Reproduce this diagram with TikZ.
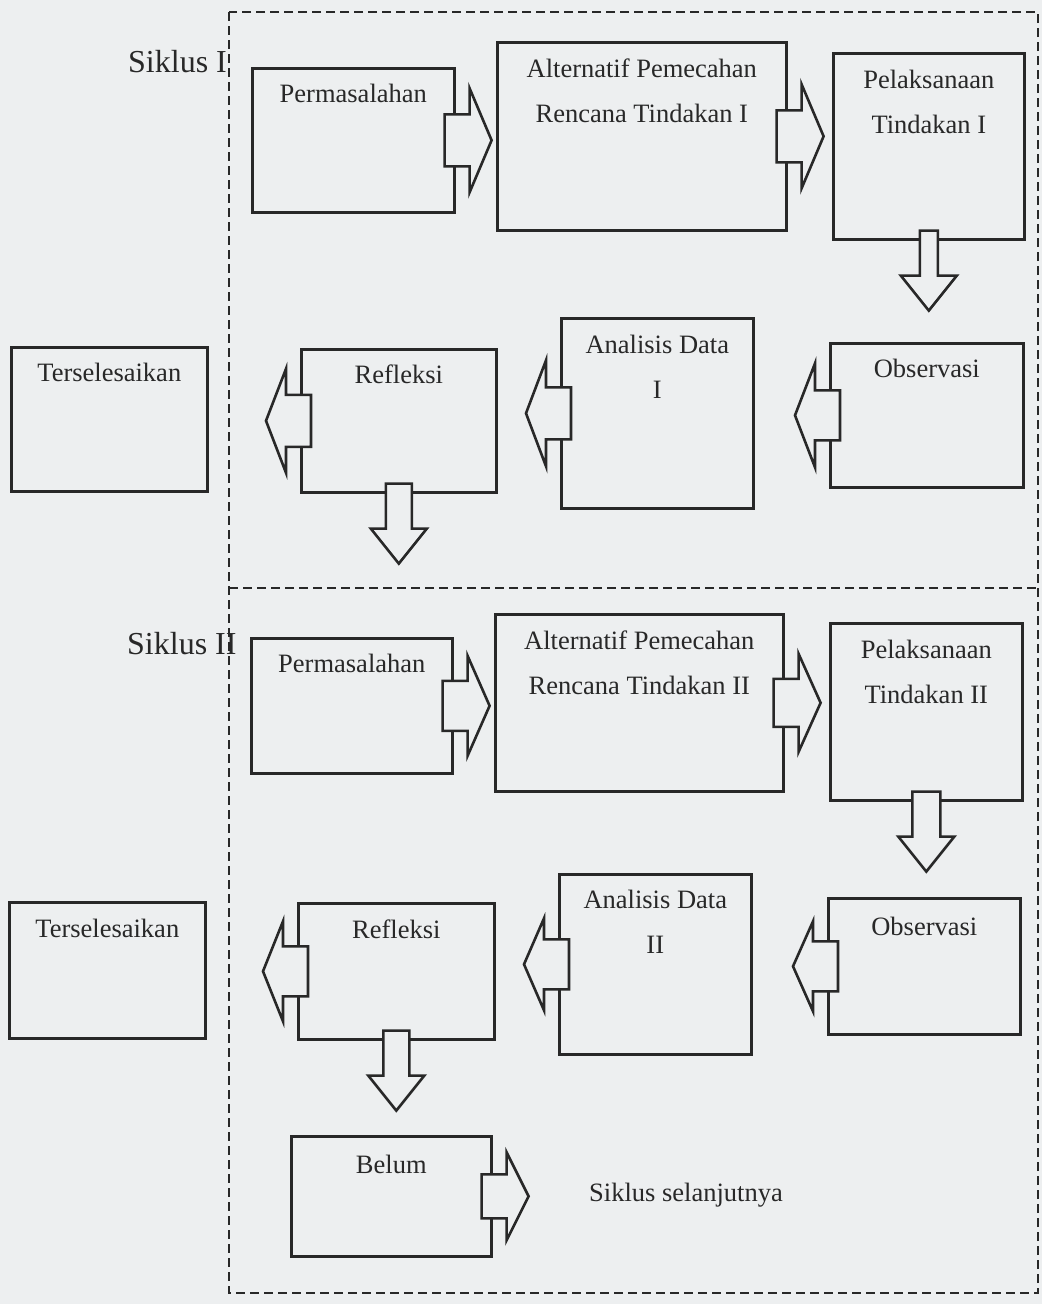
\documentclass[tikz,border=0pt]{standalone}
\usepackage{fontspec}
\setmainfont{Liberation Serif}
\usetikzlibrary{calc,positioning}
\definecolor{paper}{RGB}{237,239,240}
\definecolor{ink}{RGB}{40,40,40}
\tikzset{
	stage/.style={draw=ink, line width=2.6pt, anchor=north west, inner sep=0pt},
	stagetext/.style={font=\fontsize{26.5}{45}\selectfont, text=ink, inner sep=0pt, anchor=base, align=center},
	cyclelabel/.style={font=\fontsize{32}{38}\selectfont, text=ink, inner sep=0pt, anchor=base west},
	blockarrow/.style={draw=ink, fill=paper, line width=2.6pt, line join=miter},
	cycleframe/.style={draw=ink, line width=2.8pt, dash pattern=on 9pt off 5pt}
}
% block arrows: #1 anchor on the box side, #2 half shaft, #3 half head
\newcommand{\rightblock}[3]{\draw[blockarrow] ($(#1)+(-11,-#2)$) -- ++(25,0) -- ++(0,{#2-#3}) -- ++(22,#3) -- ++(-22,#3) -- ++(0,{#2-#3}) -- ++(-25,0) -- cycle;}
\newcommand{\leftblock}[3]{\draw[blockarrow] ($(#1)+(11,-#2)$) -- ++(-25,0) -- ++(0,{#2-#3}) -- ++(-20,#3) -- ++(20,#3) -- ++(0,{#2-#3}) -- ++(25,0) -- cycle;}
\newcommand{\downblock}[2]{\draw[blockarrow] ($(#1)+(-#2,-10)$) -- ++(0,45) -- ++({#2-28},0) -- ++(28,35) -- ++(28,-35) -- ++({#2-28},0) -- ++(0,-45) -- cycle;}

\begin{document}
\begin{tikzpicture}[x=1pt, y=-1pt]
	\fill[paper] (0,0) rectangle (1042,1304);
	\draw[cycleframe] (229,12) rectangle (1038,1293);
	\draw[cycleframe] (229,588) -- (1038,588);
	% Siklus I
	\node[cyclelabel] (siklus1) at (128,72) {Siklus I};
	\node[stage, minimum width=202pt, minimum height=144pt] (perm1) at (251,67) {};
	\node[stagetext] (perm1-t) at ($(perm1.north)+(0,35)$) {Permasalahan};
	\node[stage, minimum width=289pt, minimum height=188pt] (alt1) at (496,41) {};
	\node[stagetext] (alt1-t) at ($(alt1.north)+(0,81)$) {Alternatif Pemecahan\\Rencana Tindakan I};
	\node[stage, minimum width=191pt, minimum height=186pt] (pel1) at (832,52) {};
	\node[stagetext] (pel1-t) at ($(pel1.north)+(0,81)$) {Pelaksanaan\\Tindakan I};
	\node[stage, minimum width=193pt, minimum height=144pt] (obs1) at (829,342) {};
	\node[stagetext] (obs1-t) at ($(obs1.north)+(0,35)$) {Observasi};
	\node[stage, minimum width=192pt, minimum height=190pt] (ana1) at (560,317) {};
	\node[stagetext] (ana1-t) at ($(ana1.north)+(0,81)$) {Analisis Data\\I};
	\node[stage, minimum width=195pt, minimum height=143pt] (ref1) at (300,348) {};
	\node[stagetext] (ref1-t) at ($(ref1.north)+(0,35)$) {Refleksi};
	\node[stage, minimum width=196pt, minimum height=144pt] (ter1) at (10,346) {};
	\node[stagetext] (ter1-t) at ($(ter1.north)+(0,35)$) {Terselesaikan};
	\rightblock{perm1.east}{26}{52}
	\rightblock{alt1.east}{26}{52}
	\downblock{pel1.south}{9}
	\leftblock{obs1.west}{25}{52}
	\leftblock{ana1.west}{26}{53}
	\leftblock{ref1.west}{26}{52}
	\downblock{ref1.south}{13}
	% Siklus II
	\node[cyclelabel] (siklus2) at (127,654) {Siklus II};
	\node[stage, minimum width=201pt, minimum height=135pt] (perm2) at (250,637) {};
	\node[stagetext] (perm2-t) at ($(perm2.north)+(0,35)$) {Permasalahan};
	\node[stage, minimum width=288pt, minimum height=177pt] (alt2) at (494,613) {};
	\node[stagetext] (alt2-t) at ($(alt2.north)+(0,81)$) {Alternatif Pemecahan\\Rencana Tindakan II};
	\node[stage, minimum width=192pt, minimum height=177pt] (pel2) at (829,622) {};
	\node[stagetext] (pel2-t) at ($(pel2.north)+(0,81)$) {Pelaksanaan\\Tindakan II};
	\node[stage, minimum width=192pt, minimum height=136pt] (obs2) at (827,897) {};
	\node[stagetext] (obs2-t) at ($(obs2.north)+(0,38)$) {Observasi};
	\node[stage, minimum width=192pt, minimum height=180pt] (ana2) at (558,873) {};
	\node[stagetext] (ana2-t) at ($(ana2.north)+(0,80)$) {Analisis Data\\II};
	\node[stage, minimum width=196pt, minimum height=136pt] (ref2) at (297,902) {};
	\node[stagetext] (ref2-t) at ($(ref2.north)+(0,36)$) {Refleksi};
	\node[stage, minimum width=196pt, minimum height=136pt] (ter2) at (8,901) {};
	\node[stagetext] (ter2-t) at ($(ter2.north)+(0,36)$) {Terselesaikan};
	\node[stage, minimum width=200pt, minimum height=120pt] (belum) at (290,1135) {};
	\node[stagetext] (belum-t) at ($(belum.north)+(0,38)$) {Belum};
	\node[stagetext, anchor=base west] (lanjut) at (589,1201) {Siklus selanjutnya};
	\rightblock{perm2.east}{25}{50}
	\rightblock{alt2.east}{24}{49}
	\downblock{pel2.south}{14}
	\leftblock{obs2.west}{25}{45}
	\leftblock{ana2.west}{25}{46}
	\leftblock{ref2.west}{25}{50}
	\downblock{ref2.south}{13}
	\rightblock{belum.east}{22}{44}
\end{tikzpicture}
\end{document}
